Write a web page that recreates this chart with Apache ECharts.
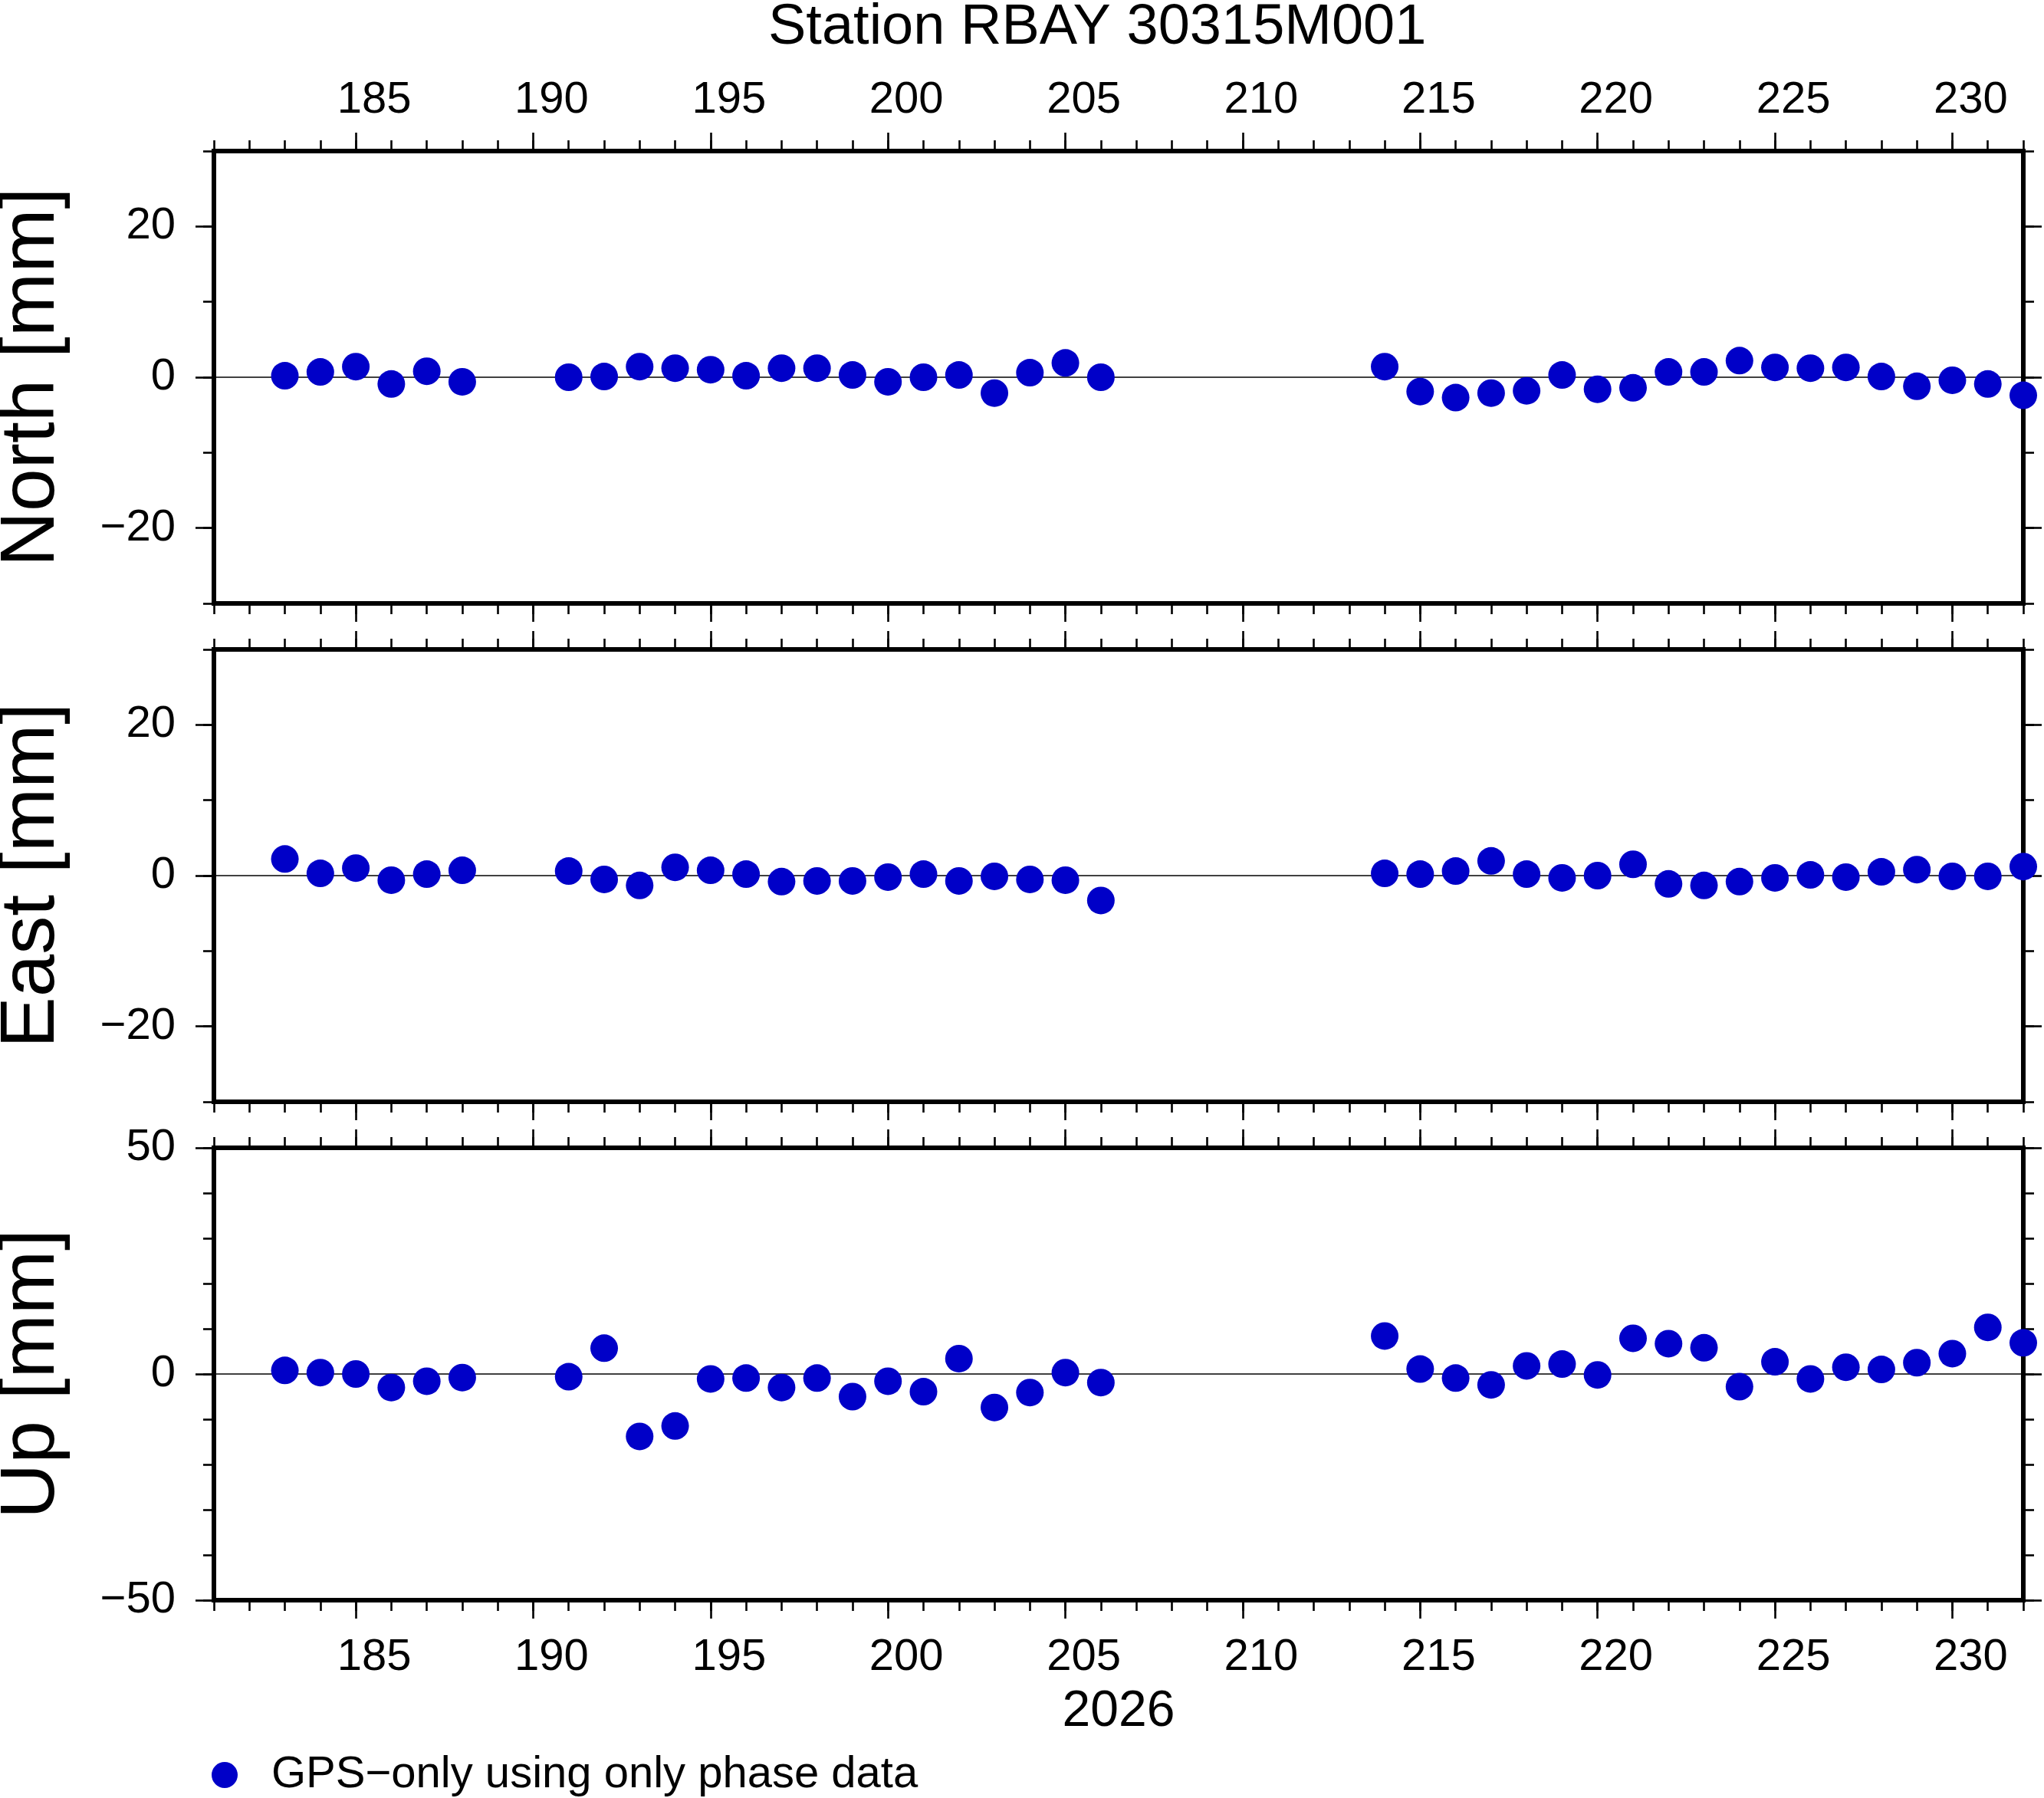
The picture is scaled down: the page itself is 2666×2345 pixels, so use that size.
<!DOCTYPE html>
<html>
<head>
<meta charset="utf-8">
<script src="https://cdn.jsdelivr.net/npm/echarts@6/dist/echarts.min.js"></script>
<style>
  html, body { margin: 0; padding: 0; background: #fff; }
  #chart { width: 2666px; height: 2345px; }
</style>
</head>
<body>
<div id="chart"></div>
<script>
// Day of year 2026
var days = [183, 184, 185, 186, 187, 188,
    191, 192, 193, 194, 195, 196, 197, 198, 199, 200, 201, 202, 203, 204, 205, 206,
    214, 215, 216, 217, 218, 219, 220, 221, 222, 223, 224, 225, 226, 227, 228, 229, 230, 231, 232];

// Residuals in mm
var north = [0.2, 0.7, 1.4, -0.9, 0.8, -0.6,
    0.0, 0.1, 1.4, 1.2, 1.0, 0.2, 1.2, 1.2, 0.3, -0.6, 0.0, 0.3, -2.1, 0.6, 1.9, 0.0,
    1.4, -1.9, -2.7, -2.1, -1.8, 0.3, -1.6, -1.4, 0.7, 0.7, 2.2, 1.3, 1.2, 1.3, 0.1, -1.2, -0.4, -0.9, -2.4];
var east = [2.2, 0.3, 1.0, -0.6, 0.2, 0.7,
    0.6, -0.5, -1.3, 1.1, 0.7, 0.2, -0.8, -0.7, -0.7, -0.2, 0.2, -0.7, -0.1, -0.5, -0.6, -3.3,
    0.3, 0.2, 0.6, 1.95, 0.2, -0.3, 0.0, 1.5, -1.1, -1.3, -0.8, -0.3, 0.1, -0.2, 0.5, 0.8, -0.1, -0.1, 1.2];
var up = [0.8, 0.3, 0.0, -3.0, -1.6, -0.8,
    -0.6, 5.7, -13.8, -11.5, -1.1, -0.9, -3.0, -0.9, -5.0, -1.6, -3.9, 3.4, -7.4, -4.1, 0.3, -1.9,
    8.4, 1.1, -0.9, -2.4, 1.8, 2.2, -0.2, 7.9, 6.7, 5.8, -2.8, 2.7, -1.1, 1.5, 1.0, 2.5, 4.5, 10.3, 6.9];

// Tick labels
var dayLabels = [185, 190, 195, 200, 205, 210, 215, 220, 225, 230];
var neLabels = [-20, 0, 20];
var neMinor = [-30, -20, -10, 0, 10, 20, 30];
var upLabels = [-50, 0, 50];
var upMinor = [-50, -40, -30, -20, -10, 0, 10, 20, 30, 40, 50];

var panelNames = ['North [mm]', 'East [mm]', 'Up [mm]'];
var yearLabel = '2026';
var titleText = 'Station RBAY 30315M001';
var legendName = 'GPS\u2212only using only phase data';

var FONT = '"Liberation Sans", Arial, Helvetica, sans-serif';
var DOT = 'rgb(0,0,200)';

var chart = echarts.init(document.getElementById('chart'));

var dayMin = 181, dayMax = 232;
var dayMinor = [];
for (var d = dayMin; d <= dayMax; d++) dayMinor.push(d);

var panels = [
    {values: north, min: -30, max: 30, labels: neLabels, minor: neMinor},
    {values: east, min: -30, max: 30, labels: neLabels, minor: neMinor},
    {values: up, min: -50, max: 50, labels: upLabels, minor: upMinor}
];
var gridTops = [197, 847, 1497];
var gridHeight = 590;

function minusSign(v) {
    return String(v).replace('-', '\u2212');
}

function tickAxis(gridIndex, position, min, max, ticks, len, labelOpt) {
    return {
        type: 'value',
        gridIndex: gridIndex,
        position: position,
        min: min,
        max: max,
        axisLine: {show: false, onZero: false},
        splitLine: {show: false},
        axisTick: {
            show: true,
            inside: false,
            length: len,
            customValues: ticks,
            lineStyle: {color: '#000', width: 2.6}
        },
        axisLabel: labelOpt ? labelOpt : {show: false}
    };
}

function dayLabelOpt(margin) {
    // labels sit a little right of their tick, as in the original plot
    return {
        show: true,
        customValues: dayLabels,
        fontSize: 58,
        fontFamily: FONT,
        color: '#000',
        margin: margin,
        padding: [0, 0, 0, 48]
    };
}

var grids = [], xAxes = [], yAxes = [], series = [], graphics = [];

for (var g = 0; g < panels.length; g++) {
    var p = panels[g];
    grids.push({
        left: 279,
        right: 27,
        top: gridTops[g],
        height: gridHeight,
        show: true,
        borderColor: '#000',
        borderWidth: 6,
        backgroundColor: 'transparent'
    });

    // Horizontal axes: bottom and top, major + minor ticks
    var xb = tickAxis(g, 'bottom', dayMin, dayMax, dayLabels, 24, g === 2 ? dayLabelOpt(46) : null);
    if (g === 2) {
        xb.name = yearLabel;
        xb.nameLocation = 'middle';
        xb.nameGap = 113;
        xb.nameTextStyle = {fontSize: 66, fontFamily: FONT, color: '#000'};
    }
    xAxes.push(xb);
    xAxes.push(tickAxis(g, 'bottom', dayMin, dayMax, dayMinor, 14));
    xAxes.push(tickAxis(g, 'top', dayMin, dayMax, dayLabels, 24, g === 0 ? dayLabelOpt(37) : null));
    xAxes.push(tickAxis(g, 'top', dayMin, dayMax, dayMinor, 14));

    // Vertical axes: left with labels, right ticks only
    yAxes.push(tickAxis(g, 'left', p.min, p.max, p.labels, 24, {
        show: true,
        customValues: p.labels,
        fontSize: 58,
        fontFamily: FONT,
        color: '#000',
        margin: 50,
        formatter: minusSign
    }));
    yAxes.push(tickAxis(g, 'left', p.min, p.max, p.minor, 14));
    yAxes.push(tickAxis(g, 'right', p.min, p.max, p.labels, 24));
    yAxes.push(tickAxis(g, 'right', p.min, p.max, p.minor, 14));

    var pts = [];
    for (var i = 0; i < days.length; i++) {
        pts.push([days[i], p.values[i]]);
    }

    series.push({
        name: legendName,
        type: 'scatter',
        xAxisIndex: g * 4,
        yAxisIndex: g * 4,
        symbol: 'circle',
        symbolSize: 36,
        clip: false,
        z: 3,
        itemStyle: {color: DOT, opacity: 1},
        data: pts,
        markLine: {
            silent: true,
            z: 1,
            symbol: 'none',
            animation: false,
            label: {show: false},
            lineStyle: {color: '#000', width: 1.5, type: 'solid'},
            data: [{yAxis: 0}]
        }
    });

    // Panel y-axis title
    graphics.push({
        type: 'text',
        x: 42,
        y: gridTops[g] + gridHeight / 2,
        rotation: Math.PI / 2,
        style: {
            text: panelNames[g],
            fontSize: 100,
            fontFamily: FONT,
            fill: '#000',
            align: 'center',
            verticalAlign: 'middle'
        }
    });
}

chart.setOption({
    animation: false,
    backgroundColor: '#fff',
    textStyle: {fontFamily: FONT},
    title: {
        text: titleText,
        left: 1002,
        top: 0,
        padding: 0,
        textStyle: {fontSize: 74, fontWeight: 'normal', fontFamily: FONT, color: '#000'}
    },
    legend: {
        data: [legendName],
        left: 276,
        top: 2286,
        padding: 0,
        icon: 'circle',
        itemWidth: 112,
        itemHeight: 34,
        selectedMode: false,
        textStyle: {fontSize: 58, fontFamily: FONT, color: '#000'}
    },
    grid: grids,
    xAxis: xAxes,
    yAxis: yAxes,
    graphic: graphics,
    series: series
});
</script>
</body>
</html>
